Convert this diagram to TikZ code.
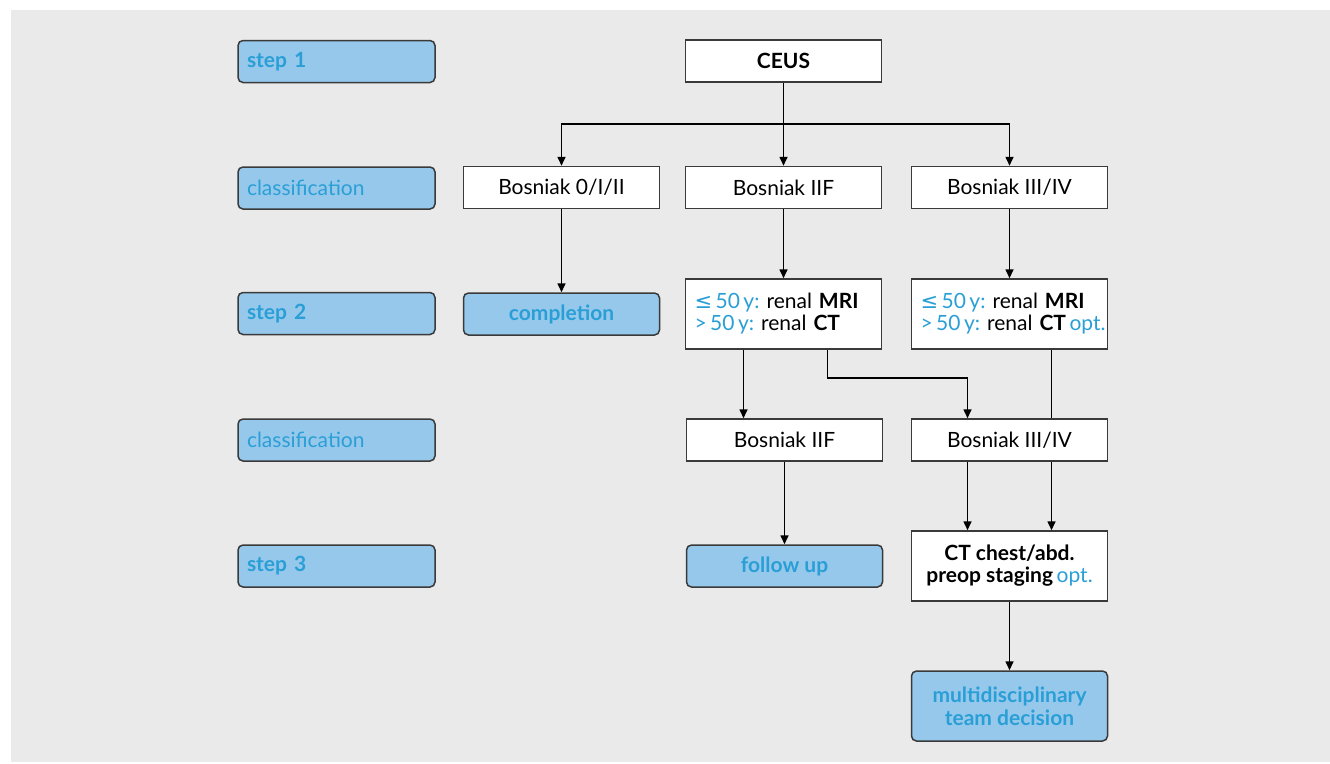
\documentclass[tikz,border=0pt]{standalone}
\usepackage{fontspec}
\setmainfont{Lato}
\newfontfamily\symf{DejaVu Sans}
\usetikzlibrary{arrows.meta}
\definecolor{bg}{HTML}{EAEAEA}
\definecolor{lblfill}{HTML}{96C8EC}
\definecolor{lbltext}{HTML}{2A9FD6}
\definecolor{bordr}{HTML}{3A3A3A}
\newcommand{\bl}[1]{{\color{lbltext}#1}}
\frenchspacing
\begin{document}
\begin{tikzpicture}[x=1pt,y=-1pt,
  font=\fontsize{21}{22}\selectfont,
  whitebox/.style={draw=bordr, fill=white, line width=1.5pt, minimum width=196pt,
    minimum height=42pt, inner sep=0pt, align=center},
  tallbox/.style={whitebox, minimum height=70pt},
  leftbox/.style={tallbox, text width=178pt, inner xsep=9pt, align=left},
  bluebox/.style={draw=bordr, fill=lblfill, rounded corners=5pt, line width=1.5pt,
    minimum width=196pt, minimum height=42pt, inner sep=0pt, align=center,
    text=lbltext, font=\fontsize{21}{23}\selectfont\bfseries},
  lbl/.style={bluebox, text width=179pt, inner xsep=9pt, align=left,
    font=\fontsize{21}{23}\selectfont},
  conn/.style={draw=black, line width=1.6pt},
  arr/.style={conn, -{Triangle[length=9pt,width=8pt]}}]
\useasboundingbox (0,0) rectangle (1330,763);
\fill[bg] (11,10) rectangle (1330,762);

% left labels
\node[lbl] (l1) at (336.5,61.5) {\bfseries step 1};
\node[lbl] (l2) at (336.5,188) {classification};
\node[lbl] (l3) at (336.5,313.5) {\bfseries step 2};
\node[lbl] (l4) at (336.5,440) {classification};
\node[lbl] (l5) at (336.5,566) {\bfseries step 3};

% flow nodes
\node[whitebox, font=\fontsize{21}{22}\selectfont\bfseries] (ceus) at (783.5,61) {CEUS};
\node[whitebox] (b1) at (561.5,187.5) {Bosniak 0/I/II};
\node[whitebox] (b2) at (783.5,187.5) {Bosniak IIF};
\node[whitebox] (b3) at (1009.5,187.5) {Bosniak III/IV};
\node[bluebox] (compl) at (561.5,314) {completion};
\node[leftbox] (mri1) at (783.5,314) {\mbox{\bl{{\symf ≤}\,50\,y:}\ renal \textbf{MRI}}\\\mbox{\bl{>\,50\,y:}\ renal \textbf{CT}}};
\node[leftbox] (mri2) at (1009.5,314) {\mbox{\bl{{\symf ≤}\,50\,y:}\ renal \textbf{MRI}}\\\mbox{\bl{>\,50\,y:}\ renal \textbf{CT}\,\bl{opt.}}};
\node[whitebox] (b4) at (784.5,440) {Bosniak IIF};
\node[whitebox] (b5) at (1009.5,440) {Bosniak III/IV};
\node[bluebox] (fu) at (784.5,566) {follow up};
\node[tallbox] (ct) at (1009.5,566) {\textbf{CT chest/abd.}\\\textbf{preop staging}\,\bl{opt.}};
\node[bluebox, minimum height=70pt] (mdt) at (1009.5,706) {multidisciplinary\\team decision};

% connectors
\coordinate (j) at (783.5,124);
\draw[arr] (ceus) -- (b2);
\draw[arr] (j) -| (b1.north);
\draw[arr] (j) -| (b3.north);
\draw[arr] (b1) -- (compl);
\draw[arr] (b2) -- (mri1);
\draw[arr] (b3) -- (mri2);
\draw[arr] ([xshift=-40pt]mri1.south) -- ([xshift=-41pt]b4.north);
\draw[arr] ([xshift=44pt]mri1.south) -- ++(0,28) -| ([xshift=-42pt]b5.north);
\draw[conn] ([xshift=42pt]mri2.south) -- ([xshift=42pt]b5.north);
\draw[arr] ([xshift=-42pt]b5.south) -- ([xshift=-42pt]ct.north);
\draw[arr] ([xshift=42pt]b5.south) -- ([xshift=42pt]ct.north);
\draw[arr] (b4) -- (fu);
\draw[arr] (ct) -- (mdt);
\end{tikzpicture}
\end{document}
